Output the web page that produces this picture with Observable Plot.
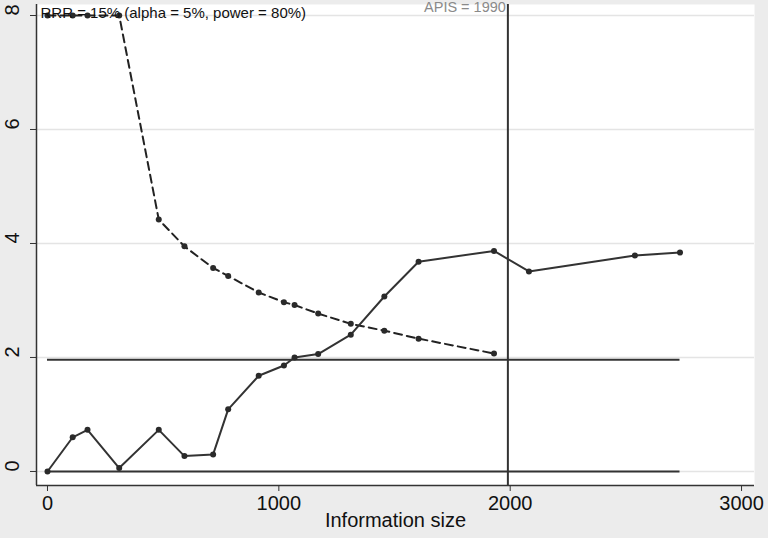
<!DOCTYPE html>
<html>
<head>
<meta charset="utf-8">
<script src="https://cdn.jsdelivr.net/npm/d3@7"></script>
<script src="https://cdn.jsdelivr.net/npm/@observablehq/plot@0.6"></script>
<style>
  html, body { margin: 0; padding: 0; background: #ececec; }
  #chart svg { display: block; }
</style>
</head>
<body>
<div id="chart"></div>
<script>
// Cumulative Z-curve (solid)
const zInfo = [0, 109, 173, 310, 481, 592, 716, 781, 913, 1022, 1068, 1170, 1311, 1456, 1604, 1930, 2081, 2539, 2734];
const zValue = [0, 0.60, 0.73, 0.06, 0.73, 0.27, 0.30, 1.09, 1.68, 1.86, 2.00, 2.06, 2.40, 3.07, 3.68, 3.87, 3.51, 3.79, 3.84];

// Trial sequential monitoring boundary (dashed)
const bInfo = [0, 109, 173, 310, 481, 592, 716, 781, 913, 1022, 1068, 1170, 1311, 1456, 1604, 1930];
const bValue = [8, 8, 8, 8, 4.42, 3.95, 3.57, 3.43, 3.14, 2.97, 2.92, 2.77, 2.59, 2.47, 2.33, 2.07];

const conventionalZ = [0, 1.96];
const apis = 1990;
const xTicks = [0, 1000, 2000, 3000];
const yTicks = [0, 2, 4, 6, 8];
const topLabel = "RRR = 15% (alpha = 5%, power = 80%)";
const xTitle = "Information size";

const zData = zInfo.map((x, i) => ({x, y: zValue[i]}));
const bData = bInfo.map((x, i) => ({x, y: bValue[i]}));
const maxInfo = d3.max(zInfo);

const xDom = [-47.5, 3056];
const yDom = [-0.246, 8.193];
const ink = "#333";
const font = "'Liberation Sans Narrow', 'Liberation Sans', Arial, sans-serif";

const chart = Plot.plot({
  width: 768,
  height: 538,
  marginLeft: 36,
  marginRight: 14,
  marginTop: 4,
  marginBottom: 53,
  style: {background: "#ececec", fontFamily: font},
  x: {type: "linear", domain: xDom},
  y: {type: "linear", domain: yDom},
  marks: [
    Plot.frame({fill: "white", stroke: null}),
    Plot.gridY(yTicks, {stroke: "#e4e4e4", strokeOpacity: 1, strokeWidth: 1.5}),
    Plot.ruleY(conventionalZ, {y: d => d, x1: 0, x2: maxInfo, stroke: ink, strokeWidth: 2}),
    Plot.ruleX([apis], {stroke: ink, strokeWidth: 2}),
    Plot.line(bData, {x: "x", y: "y", stroke: "#222", strokeWidth: 2, strokeDasharray: "8,5"}),
    Plot.dot(bData, {x: "x", y: "y", r: 3, fill: "#2a2a2a", stroke: null}),
    Plot.line(zData, {x: "x", y: "y", stroke: ink, strokeWidth: 2}),
    Plot.dot(zData, {x: "x", y: "y", r: 3, fill: "#2a2a2a", stroke: null}),
    // axis lines
    Plot.ruleX([xDom[0]], {stroke: "#333", strokeWidth: 1.5}),
    Plot.ruleY([yDom[0]], {stroke: "#333", strokeWidth: 1.5}),
    // x axis
    Plot.axisX({ticks: xTicks, tickSize: 6, tickFormat: d => String(d), fontSize: 20, tickPadding: 4, label: null, color: "#111", stroke: "#333"}),
    Plot.text([xTitle], {frameAnchor: "bottom", dy: 41, fontSize: 20, fill: "#111", text: d => d}),
    // y axis
    Plot.axisY({ticks: yTicks, tickSize: 6, tickFormat: () => "", label: null, stroke: "#333"}),
    Plot.text(yTicks, {y: d => d, frameAnchor: "left", dx: -24, rotate: -90, fontSize: 20, fill: "#111", text: d => String(d)}),
    // annotations
    Plot.text([topLabel], {frameAnchor: "top-left", dx: 4, dy: 3, textAnchor: "start", fontSize: 15, fontFamily: "'Liberation Sans', Arial, sans-serif", fill: "#111", text: d => d}),
    Plot.text([apis], {x: d => d, frameAnchor: "top", textAnchor: "end", dx: -2, dy: -3, fontSize: 14.5, fontFamily: "'Liberation Sans', Arial, sans-serif", fill: "#8a8a8a", text: d => `APIS = ${d}`})
  ]
});
document.getElementById("chart").appendChild(chart);
</script>
</body>
</html>
